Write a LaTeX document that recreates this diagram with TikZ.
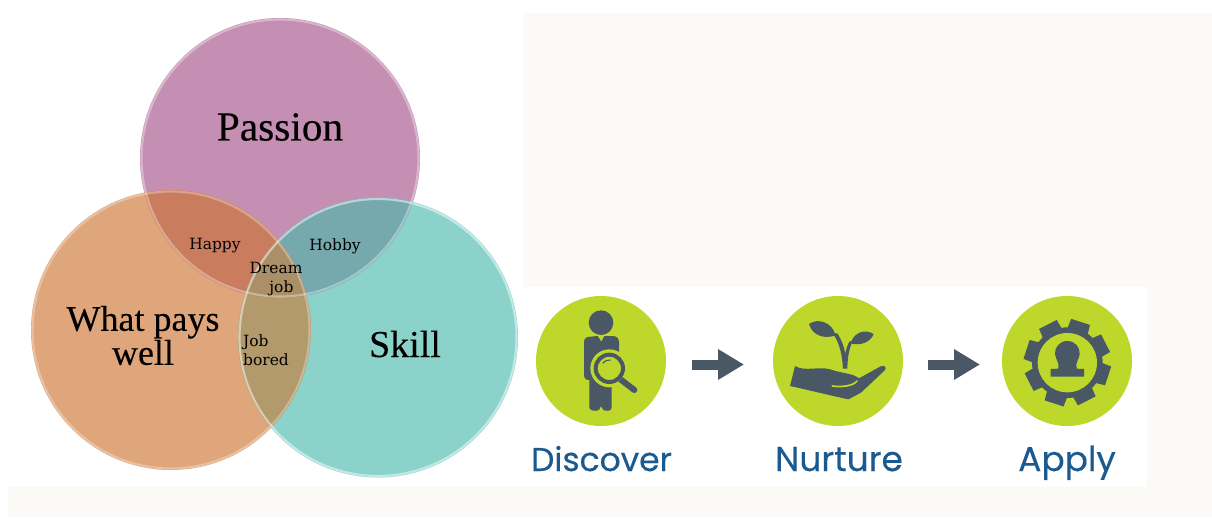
\documentclass[tikz,border=0pt]{standalone}
\usepackage{fontspec}
\usetikzlibrary{arrows.meta}
\setmainfont{Liberation Serif}
\newfontfamily\bigserif[FakeBold=0.25]{Liberation Serif}
\newfontfamily\smallserif{DejaVu Serif}
\newfontfamily\stepfont[FakeBold=0.35]{Poppins}
\definecolor{cream}{HTML}{FBFAF6}
\definecolor{passionc}{HTML}{C48FB2}
\definecolor{payc}{HTML}{DFA67B}
\definecolor{skillc}{HTML}{8BD2CB}
\definecolor{pxo}{HTML}{C97D5E}
\definecolor{pxt}{HTML}{76A9AE}
\definecolor{oxt}{HTML}{B39A6C}
\definecolor{allc}{HTML}{AB8F66}
\definecolor{lime}{HTML}{BED72B}
\definecolor{slate}{HTML}{4A5865}
\definecolor{stepblue}{HTML}{1B5A8F}
\tikzset{
  x=.75pt,y=-.75pt,
  venn/.style={circle,minimum size=210pt,inner sep=0pt},
  bigtxt/.style={font=\bigserif\fontsize{#1}{25.5}\selectfont,align=center,text=black,inner sep=0pt},
  smalltxt/.style={font=\smallserif\fontsize{11.6}{14.2}\selectfont,align=center,text=black,inner sep=0pt},
  limedisc/.style={circle,fill=lime,minimum size=97.5pt,inner sep=0pt},
  steplabel/.style={font=\stepfont\fontsize{#1}{25}\selectfont,text=stepblue,inner sep=0pt,anchor=base},
  flow/.style={slate,line width=7.5pt,-{Triangle[length=19.5pt,width=21.75pt]}},
  icon/.style={fill=slate,draw=none},
  zoomed/.style={x=.25pt,y=-.25pt},
}
\begin{document}
\begin{tikzpicture}
\useasboundingbox (0,0) rectangle (1212,517);
% panels
\fill[white] (0,0) rectangle (1212,517);
\fill[cream] (8,13) rectangle (1212,517);
\fill[white] (8,13) rectangle (523,487);
\fill[white] (523,287) rectangle (1147,487);
% venn circles
\node[venn,fill=passionc] (pas) at (280,158) {};
\node[venn,fill=payc] (pay) at (171,330) {};
\node[venn,fill=skillc] (ski) at (378,337.5) {};
\begin{scope}
  \clip (280,158) circle[radius=140];
  \fill[pxo] (171,330) circle[radius=140];
  \fill[pxt] (378,337.5) circle[radius=140];
\end{scope}
\begin{scope}
  \clip (171,330) circle[radius=140];
  \fill[oxt] (378,337.5) circle[radius=140];
  \clip (378,337.5) circle[radius=140];
  \fill[allc] (280,158) circle[radius=140];
\end{scope}
% rims
\draw[white,opacity=.35,line width=1.6pt] (280,158) circle[radius=138.5];
\draw[white,opacity=.3,line width=1.6pt] (171,330) circle[radius=138.5];
\draw[white,opacity=.5,line width=1.6pt] (378,337.5) circle[radius=138.5];
% venn labels
\node[bigtxt=31] (lpas) at (280,127) {Passion};
\node[bigtxt=27] (lpay) at (143,335.5) {What pays\\well};
\node[bigtxt=28.5] (lski) at (405,344) {Skill};
\node[smalltxt] (lhap) at (215,246) {Happy};
\node[smalltxt] (lhob) at (335,246) {Hobby};
\node[smalltxt] (ldre) at (276,279.5) {Dream\\\hspace*{.7em}job};
\node[smalltxt,align=left] (ljob) at (266,350) {Job\\bored};
% steps
\node[limedisc] (dis) at (601,361) {};
\node[limedisc] (nur) at (838,361) {};
\node[limedisc] (app) at (1067,361) {};
\node[steplabel=24.7] (ldis) at (601.5,471) {Discover};
\node[steplabel=25.8] (lnur) at (839,471) {Nurture};
\node[steplabel=25.8] (lapp) at (1067,471) {Apply};
% arrows
\coordinate (a1s) at (692,364.5);
\coordinate (a1e) at (744,364.5);
\coordinate (a2s) at (928,364.5);
\coordinate (a2e) at (980,364.5);
\draw[flow] (a1s) -- (a1e);
\draw[flow] (a2s) -- (a2e);
% discover icon
\begin{scope}[shift={(570,300)},zoomed]
  \fill[icon] (93,68) circle[radius=37];
  \fill[icon] (42,125) .. controls (42,113) and (52,110) .. (62,110)
    -- (83,108) -- (94,125) -- (103,108) -- (128,108)
    .. controls (140,108) and (147,115) .. (147,128) -- (147,160) -- (125,230)
    -- (125,322) .. controls (125,332) and (112,335) .. (100,330)
    -- (93,318) -- (87,330) .. controls (75,335) and (58,332) .. (58,322)
    -- (58,240) .. controls (48,240) and (42,236) .. (42,228) -- cycle;
  \fill[lime] (118,205) circle[radius=57];
  \draw[slate,line width=4.5pt,line cap=round] (150,237) -- (193,270);
  \fill[lime] (118,205) circle[radius=47];
  \draw[slate,line width=3pt] (118,205) circle[radius=41];
  \draw[slate,line width=.8pt] (98,190) arc[start angle=215,end angle=280,radius=24];
\end{scope}
% nurture icon
\begin{scope}[shift={(785,310)},zoomed]
  \fill[icon] (72,42) .. controls (100,22) and (142,38) .. (152,76)
    .. controls (120,88) and (82,78) .. (72,42) -- cycle;
  \fill[icon] (266,72) .. controls (240,56) and (208,66) .. (196,100)
    .. controls (225,108) and (256,98) .. (266,72) -- cycle;
  \fill[icon] (143,70) .. controls (165,100) and (171,135) .. (174,176)
    -- (187,176) .. controls (188,140) and (192,115) .. (204,92)
    -- (193,95) .. controls (186,108) and (183,120) .. (181,132)
    .. controls (178,112) and (170,90) .. (157,70) -- cycle;
  \fill[icon] (30,168) .. controls (60,186) and (100,168) .. (135,178)
    .. controls (170,190) and (205,190) .. (222,205)
    -- (285,170) .. controls (297,163) and (308,172) .. (298,182)
    -- (228,248) -- (190,268) .. controls (130,255) and (70,240) .. (15,228) -- cycle;
  \draw[lime,line width=1.3pt,line cap=round] (142,228) .. controls (170,232) and (205,228) .. (216,213);
\end{scope}
% apply icon
\begin{scope}[shift={(1015,310)},zoomed]
  \begin{scope}[shift={(157,158)}]
  \foreach \a in {72,27,-18,-63,-108,-153,-198,-243} {
    \fill[icon] ({-\a-19}:98) -- ({-\a-13}:132) -- ({-\a+13}:132) -- ({-\a+19}:98) -- cycle;
  }
  \fill[icon] (0,0) circle[radius=106];
  \end{scope}
  \fill[lime] (157,158) circle[radius=89];
  \fill[icon] (157,93) .. controls (180,93) and (196,112) .. (194,132)
    .. controls (192,150) and (180,158) .. (185,176)
    -- (207,177) -- (207,200) -- (107,200) -- (107,177) -- (130,176)
    .. controls (134,158) and (122,150) .. (120,132)
    .. controls (118,112) and (134,93) .. (157,93) -- cycle;
\end{scope}
\end{tikzpicture}
\end{document}
